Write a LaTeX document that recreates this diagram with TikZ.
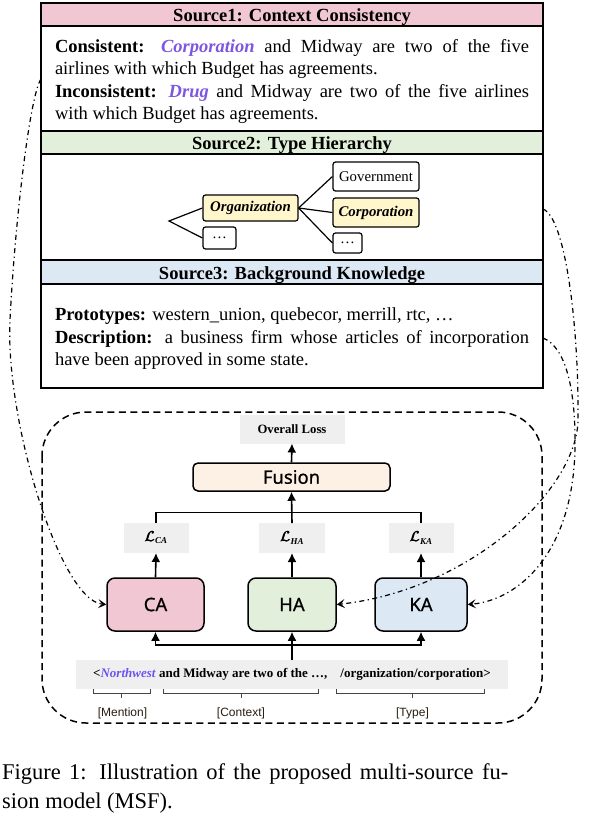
\documentclass[tikz,border=0pt]{standalone}
\usepackage{fontspec}
\setmainfont{Liberation Serif}
\newfontfamily\lsans{Liberation Sans}
\newfontfamily\nsans[FakeBold=0.7]{Noto Sans}
\usetikzlibrary{arrows.meta}
\definecolor{pinkc}{HTML}{F1C7D3}
\definecolor{greenc}{HTML}{E2EFDA}
\definecolor{bluec}{HTML}{DDE8F5}
\definecolor{peach}{HTML}{FDF1E5}
\definecolor{grayc}{HTML}{EFEFEF}
\definecolor{yel}{HTML}{FFF6CC}
\definecolor{purp}{HTML}{7E57E0}
\definecolor{purpb}{HTML}{6A55F0}
\definecolor{labc}{HTML}{2A1E14}
\definecolor{bracec}{HTML}{444444}
\newcommand{\lossname}[1]{\rlap{$\mathcal{L}$}\hspace{0.4pt}\rlap{$\mathcal{L}$}\hspace{0.3pt}$\mathcal{L}_{\mbox{\fontsize{9}{10}\selectfont\bfseries\itshape #1}}$}
\tikzset{
  srcbox/.style={draw, line width=1.6pt, minimum width=502pt, inner sep=0pt, outer sep=0pt},
  hdrtxt/.style={anchor=base, inner sep=0pt, font=\fontsize{18.5}{22}\selectfont\bfseries},
  bodyline/.style={anchor=base west, inner sep=0pt, outer sep=0pt, font=\fontsize{18.5}{22.5}\selectfont},
  hnode/.style={draw, line width=1.2pt, rounded corners=2.5pt, inner sep=0pt, font=\fontsize{14.8}{17}\selectfont},
  hline/.style={line width=1.2pt},
  graybox/.style={fill=grayc, inner sep=0pt, outer sep=0pt},
  modbox/.style={draw, line width=1.5pt, rounded corners=8pt, inner sep=0pt, font=\nsans\fontsize{18.5}{22}\selectfont},
  arr/.style={line width=1.6pt, -{Latex[length=9pt,width=9pt]}},
  plainline/.style={line width=1.6pt},
  dd/.style={line width=1.2pt, dash pattern=on 5pt off 3.5pt on 1.2pt off 3.5pt, -{Stealth[length=8pt,width=9pt,inset=3.5pt]}},
  dashbox/.style={line width=1.5pt, dash pattern=on 7pt off 4.5pt, rounded corners=44pt},
  bracestyle/.style={line width=1pt, bracec},
  bracelab/.style={inner sep=0pt, font=\lsans\fontsize{12}{14}\selectfont, text=labc}
}
\begin{document}
\begin{tikzpicture}[x=1pt, y=-1pt]
\fill[white] (0,0) rectangle (595,822);
\useasboundingbox (0,0) rectangle (595,822);

% ---------- Source boxes ----------
\node[srcbox, minimum height=105pt] (b1) at (292,78.5) {};
\node[srcbox, minimum height=106pt] (b2) at (292,207) {};
\node[srcbox, minimum height=104pt] (b3) at (292,336) {};
\node[srcbox, fill=pinkc, minimum height=23pt] (h1) at (292,14.5) {};
\node[srcbox, fill=greenc, minimum height=23pt] (h2) at (292,142.5) {};
\node[srcbox, fill=bluec, minimum height=24pt] (h3) at (292,272) {};
\node[hdrtxt] (h1t) at (292,21.5) {Source1: Context Consistency};
\node[hdrtxt] (h2t) at (292,149.5) {Source2: Type Hierarchy};
\node[hdrtxt] (h3t) at (292,279) {Source3: Background Knowledge};

% Source1 text
\node[bodyline] (t1a) at (55,52) {\makebox[474pt][s]{\textbf{Consistent:} \textcolor{purp}{\textbf{\textit{Corporation}}} and Midway are two of the five}};
\node[bodyline] (t1b) at (55,74.5) {airlines with which Budget has agreements.};
\node[bodyline] (t1c) at (55,97) {\makebox[474pt][s]{\textbf{Inconsistent:} \textcolor{purp}{\textbf{\textit{Drug}}} and Midway are two of the five airlines}};
\node[bodyline] (t1d) at (55,119.5) {with which Budget has agreements.};

% Source2 hierarchy
\coordinate (root) at (169,221);
\node[hnode, fill=yel, minimum width=95pt, minimum height=26pt] (org) at (250.5,208) {\textbf{\textit{Organization}}};
\node[hnode, minimum width=33pt, minimum height=22pt] (dl) at (219.5,238) {…};
\node[hnode, minimum width=86pt, minimum height=29pt] (gov) at (376,176.5) {Government};
\node[hnode, fill=yel, minimum width=86pt, minimum height=29pt] (corp) at (376,212.5) {\textbf{\textit{Corporation}}};
\node[hnode, minimum width=29pt, minimum height=20pt] (dr) at (347.5,243) {…};
\draw[hline] (org.west) -- (root) -- (dl.west);
\draw[hline] (org.east) -- (gov.west);
\draw[hline] (org.east) -- (corp.west);
\draw[hline] (org.east) -- (dr.west);

% Source3 text
\node[bodyline] (t3a) at (55,320.5) {\textbf{Prototypes:} western\_union, quebecor, merrill, rtc, …};
\node[bodyline] (t3b) at (55,343) {\makebox[474pt][s]{\textbf{Description:} a business firm whose articles of incorporation}};
\node[bodyline] (t3c) at (55,365.5) {have been approved in some state.};

% ---------- Model ----------
\draw[dashbox] (42,412) rectangle (542,723);

\node[graybox, minimum width=105pt, minimum height=29pt, font=\fontsize{12.7}{15}\selectfont\bfseries] (ol) at (292,429) {Overall Loss};
\node[modbox, fill=peach, rounded corners=5pt, minimum width=197pt, minimum height=28pt] (fus) at (291.5,477) {Fusion};

\node[graybox, minimum width=65pt, minimum height=30pt, font=\fontsize{14}{16}\selectfont] (lca) at (156,538) {\lossname{CA}};
\node[graybox, minimum width=66pt, minimum height=30pt, font=\fontsize{14}{16}\selectfont] (lha) at (292,538) {\lossname{HA}};
\node[graybox, minimum width=65pt, minimum height=30pt, font=\fontsize{14}{16}\selectfont] (lka) at (421,538) {\lossname{KA}};

\node[modbox, fill=pinkc, minimum width=97pt, minimum height=53pt] (ca) at (155.5,604.5) {CA};
\node[modbox, fill=greenc, minimum width=88pt, minimum height=53pt] (ha) at (292,604.5) {HA};
\node[modbox, fill=bluec, minimum width=92pt, minimum height=53pt] (ka) at (421,604.5) {KA};

\node[graybox, minimum width=432pt, minimum height=29pt, font=\fontsize{13}{15}\selectfont\bfseries] (inp) at (292,674.5)
  {<\textcolor{purpb}{\textit{Northwest}} and Midway are two of the …,\hspace{13pt}/organization/corporation>};

% arrows
\draw[arr] (fus.north) -- (ol.south);
\coordinate (br) at (292,512.5);
\draw[plainline] (lca.north) |- (br) -| (lka.north);
\draw[arr] (lha.north) -- (fus.south);
\draw[arr] (ca.north) -- (lca.south);
\draw[arr] (ha.north) -- (lha.south);
\draw[arr] (ka.north) -- (lka.south);
\coordinate (bus) at (292,645);
\draw[arr] (inp.north) -- (ha.south);
\draw[arr] (bus) -| (ca.south);
\draw[arr] (bus) -| (ka.south);

% braces
\draw[bracestyle] (93,689) -- (93,693) -- (150,693) -- (150,689) (121.5,693) -- (121.5,698);
\draw[bracestyle] (163,689) -- (163,693) -- (318.5,693) -- (318.5,689) (241,693) -- (241,698);
\draw[bracestyle] (336,689) -- (336,693) -- (484,693) -- (484,689) (412.5,693) -- (412.5,698);
\node[bracelab] (lm) at (122.5,713) {[Mention]};
\node[bracelab] (lc) at (241,713) {[Context]};
\node[bracelab] (lt) at (412.5,713) {[Type]};

% dash-dot connectors
\coordinate (s1) at (41,79);
\coordinate (s2) at (543,209);
\coordinate (s3) at (543,338);
\draw[dd] (s1) .. controls (30,95) and (15,220) .. (10,320) .. controls (5,420) and (60,600) .. (ca.west);
\draw[dd] (s2) .. controls (566,218) and (579,330) .. (578,420) .. controls (577,490) and (470,590) .. (ha.east);
\draw[dd] (s3) .. controls (566,347) and (575,390) .. (575,440) .. controls (576,550) and (520,600) .. (ka.east);

% caption
\node[anchor=base west, inner sep=0pt, font=\fontsize{22.5}{29}\selectfont] (cap1) at (2,779) {\makebox[506pt][s]{Figure 1: Illustration of the proposed multi-source fu-}};
\node[anchor=base west, inner sep=0pt, font=\fontsize{22.5}{29}\selectfont] (cap2) at (2,808) {sion model (MSF).};
\end{tikzpicture}
\end{document}
